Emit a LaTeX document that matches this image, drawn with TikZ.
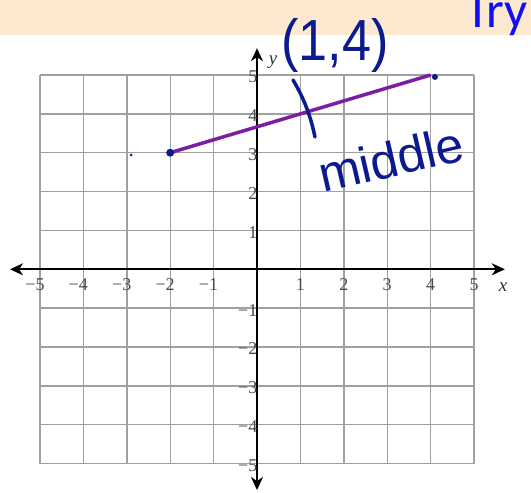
\documentclass[tikz,border=0pt]{standalone}
\usepackage{fontspec}
\setmainfont{Liberation Serif}
\newfontfamily\trysans{Carlito}
\newfontfamily\handfont{Liberation Sans}
\usetikzlibrary{arrows.meta}
\definecolor{band}{HTML}{FDE9D0}
\definecolor{tryblue}{HTML}{1010F0}
\definecolor{gridgray}{HTML}{A0A0A0}
\definecolor{ticklab}{HTML}{4A4A4A}
\definecolor{segpurple}{HTML}{7B1FA2}
\definecolor{ink}{HTML}{0B1A8E}
\begin{document}
\begin{tikzpicture}[x=1pt,y=-1pt,
  gridline/.style={draw=gridgray,line width=1.4pt},
  axisline/.style={draw=black,line width=1.7pt,{Stealth[length=13pt,width=12pt,inset=4pt]}-{Stealth[length=13pt,width=12pt,inset=4pt]}},
  xlab/.style={font=\fontsize{18}{18}\selectfont,text=ticklab,inner sep=0pt},
  ylab/.style={font=\fontsize{18}{18}\selectfont,text=ticklab,inner sep=0pt,anchor=east},
  axlab/.style={font=\itshape\fontsize{19}{19}\selectfont,text=black!80,inner sep=0pt},
  bigdot/.style={circle,fill=ink,draw=none,inner sep=0pt,minimum size=8pt},
  middot/.style={circle,fill=ink,draw=none,inner sep=0pt,minimum size=6pt},
  tinydot/.style={circle,fill=ink,draw=none,inner sep=0pt,minimum size=3pt},
  segment/.style={draw=segpurple,line width=3.5pt},
  hand/.style={text=ink,inner sep=0pt,font=\handfont\fontsize{58}{58}\selectfont},
  handstroke/.style={draw=ink,line width=3.5pt,line cap=round}]
\useasboundingbox (0,0) rectangle (531,493);
\fill[band] (0,0) rectangle (531,35);
\begin{scope}
\clip (0,0) rectangle (531,35);
\node[anchor=base west,inner sep=0pt,text=tryblue,font=\trysans\fontsize{51}{51}\selectfont] (try) at (465,27) {Try};
\end{scope}
\begin{scope}[shift={(257pt,-269.3pt)},x=43.4pt,y=38.86pt]
  \foreach \k in {-5,...,5} {
    \draw[gridline] (\k,-5) -- (\k,5);
    \draw[gridline] (-5,\k) -- (5,\k);
  }
  \coordinate (xl) at (-5.69,0);
  \coordinate (xr) at (5.71,0);
  \coordinate (yb) at (0,-5.68);
  \coordinate (yt) at (0,5.69);
  \draw[axisline] (xl) -- (xr);
  \draw[axisline] (yb) -- (yt);
  \foreach \k in {1,...,5} {
    \node[xlab] (xp\k) at (\k,0) [yshift=-15pt] {\k};
    \node[xlab] (xn\k) at (-\k,0) [yshift=-15pt] {\llap{−}\k};
    \node[ylab] (yp\k) at (0,\k) [xshift=0.5pt,yshift=-2pt] {\k};
    \node[ylab] (yn\k) at (0,-\k) [xshift=0.5pt,yshift=-2pt] {−\k};
  }
  \node[axlab] (xname) at (5.67,-0.45) {x};
  \node[axlab] (yname) at (0.37,5.33) {y};
  \coordinate (pA) at (-2,3);
  \coordinate (pB) at (4,5);
  \draw[segment] (pA) -- (pB);
  \node[bigdot] (A) at (pA) {};
  \node[middot] (B) at (4.1,4.95) {};
  \node[tinydot] (C) at (-2.9,2.94) {};
\end{scope}
\node[hand,xscale=0.9] (mid) at (335,45) {(1,4)};
\coordinate (m1) at (293,80);
\coordinate (m2) at (315,137);
\draw[handstroke] (m1) .. controls (305,100) and (311,118) .. (m2);
\node[hand,font=\handfont\fontsize{50}{50}\selectfont,rotate=13] (word) at (391,159) {middle};
\end{tikzpicture}
\end{document}
